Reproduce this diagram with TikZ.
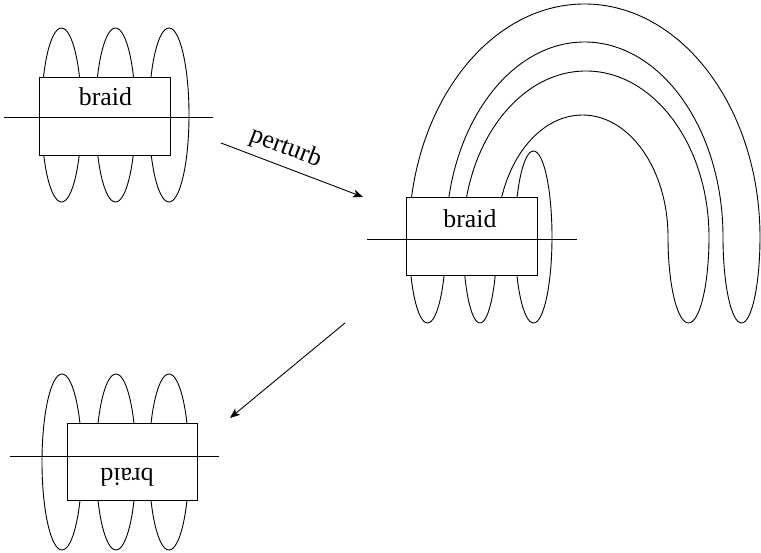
\documentclass[tikz,border=0pt]{standalone}
\usepackage{fontspec}
\setmainfont{Liberation Serif}
\usetikzlibrary{arrows.meta}
\begin{document}
\begin{tikzpicture}[x=1pt,y=1pt, line width=0.9pt,
  braidbox/.style={draw, fill=white, inner sep=0pt, minimum width=131pt, minimum height=78pt},
  lbl/.style={font=\fontsize{25.8}{30}\selectfont, inner sep=0pt},
  arr/.style={-{Stealth[length=10pt,width=8pt,inset=2.5pt]}, line width=0.9pt},
  strand/.style={line width=0.9pt}]
\useasboundingbox (0,0) rectangle (761,552);

% ---- diagram 1 (top left)
\foreach \cx in {61.5,115.5,169} \draw[strand] (\cx,437) ellipse [x radius=20, y radius=87];
\node[braidbox] (box1) at (104.5,436) {};
\node[lbl] (t1) at (105.5,455.5) {braid};
\coordinate (l1a) at (4,435); \coordinate (l1b) at (213,435);
\draw (l1a) -- (l1b);

% ---- diagram 2 (right)
\draw[strand] (409,315) arc[start angle=180,end angle=0,x radius=175.5,y radius=233]
  arc[start angle=0,end angle=-180,x radius=18.5,y radius=86]
  arc[start angle=0,end angle=180,x radius=138.5,y radius=195]
  arc[start angle=0,end angle=-180,x radius=18.5,y radius=86] -- cycle;
\draw[strand] (463,315) arc[start angle=180,end angle=0,x radius=123,y radius=166]
  arc[start angle=0,end angle=-180,x radius=20.5,y radius=86]
  arc[start angle=0,end angle=180,x radius=85.5,y radius=122]
  arc[start angle=0,end angle=-180,x radius=17,y radius=86] -- cycle;
\draw[strand] (533.5,315) ellipse [x radius=18.5, y radius=86];
\node[braidbox] (box2) at (471.5,315.5) {};
\node[lbl] (t2) at (470,333) {braid};
\coordinate (l2a) at (367,313); \coordinate (l2b) at (577,313);
\draw (l2a) -- (l2b);

% ---- diagram 3 (bottom left)
\foreach \cx in {62,116,169} \draw[strand] (\cx,90) ellipse [x radius=20, y radius=88];
\node[braidbox, minimum width=130pt, minimum height=77pt] (box3) at (132,90.5) {};
\node[lbl, rotate=180] (t3) at (127,75) {braid};
\coordinate (l3a) at (10,96); \coordinate (l3b) at (219,96);
\draw (l3a) -- (l3b);

% ---- arrows
\coordinate (p1) at (221,409); \coordinate (p2) at (363,355);
\draw[arr] (p1) -- node[lbl, sloped, pos=0.41, above=6pt] (plbl) {perturb} (p2);
\coordinate (q1) at (345,229); \coordinate (q2) at (230,134);
\draw[arr] (q1) -- (q2);
\end{tikzpicture}
\end{document}
